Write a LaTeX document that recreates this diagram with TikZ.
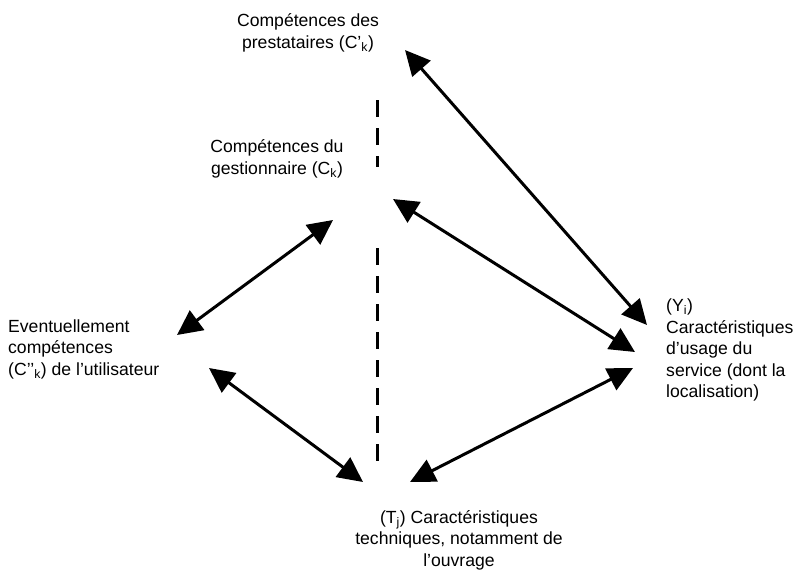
\documentclass[tikz,border=0pt]{standalone}
\usepackage{fontspec}
\setmainfont{Liberation Sans}
\usetikzlibrary{arrows.meta}
\tikzstyle{desc} = [inner sep=0pt, font=\fontsize{17.6}{21.5}\selectfont]
\tikzstyle{link} = [line width=3pt, {Triangle[length=25pt,width=24pt]}-{Triangle[length=25pt,width=24pt]}]
\tikzstyle{divider} = [line width=3pt, dash pattern=on 17pt off 11pt]

\begin{document}
\begin{tikzpicture}[x=1pt, y=-1pt]
    \useasboundingbox (0,0) rectangle (799,570);
    % Drawing labels
    \node [desc, align=center] (presta) at (308,33) {Compétences des\\prestataires (C’\textsubscript{k})};
    \node [desc, align=center] (gest) at (277,159) {Compétences du\\gestionnaire (C\textsubscript{k})};
    \node [desc, align=left, anchor=west] (util) at (8,349) {Eventuellement\\compétences\\(C’’\textsubscript{k}) de l’utilisateur};
    \node [desc, align=left, anchor=west] (usage) at (666,350) {(Y\textsubscript{i})\\Caractéristiques\\d’usage du\\service (dont la\\localisation)};
    \node [desc, align=center] (tech) at (459,540) {(T\textsubscript{j}) Caractéristiques\\techniques, notamment de\\l’ouvrage};

    % Arrow ends
    \coordinate (presta-e) at (405,50);
    \coordinate (usage-n) at (647,325);
    \coordinate (gest-e) at (393,199);
    \coordinate (usage-w) at (635,352);
    \coordinate (gest-s) at (333,220);
    \coordinate (util-ne) at (177,335);
    \coordinate (util-se) at (209,368);
    \coordinate (tech-nw) at (363,482);
    \coordinate (tech-ne) at (410,482);
    \coordinate (usage-sw) at (633,368);
    \coordinate (cut1a) at (377,100);
    \coordinate (cut1b) at (377,167);
    \coordinate (cut2a) at (377,248);
    \coordinate (cut2b) at (377,463);

    % Connectors
    \draw [link] (presta-e) -- (usage-n);
    \draw [link] (gest-e) -- (usage-w);
    \draw [link] (gest-s) -- (util-ne);
    \draw [link] (util-se) -- (tech-nw);
    \draw [link] (tech-ne) -- (usage-sw);
    \draw [divider] (cut1a) -- (cut1b);
    \draw [divider] (cut2a) -- (cut2b);
\end{tikzpicture}
\end{document}
